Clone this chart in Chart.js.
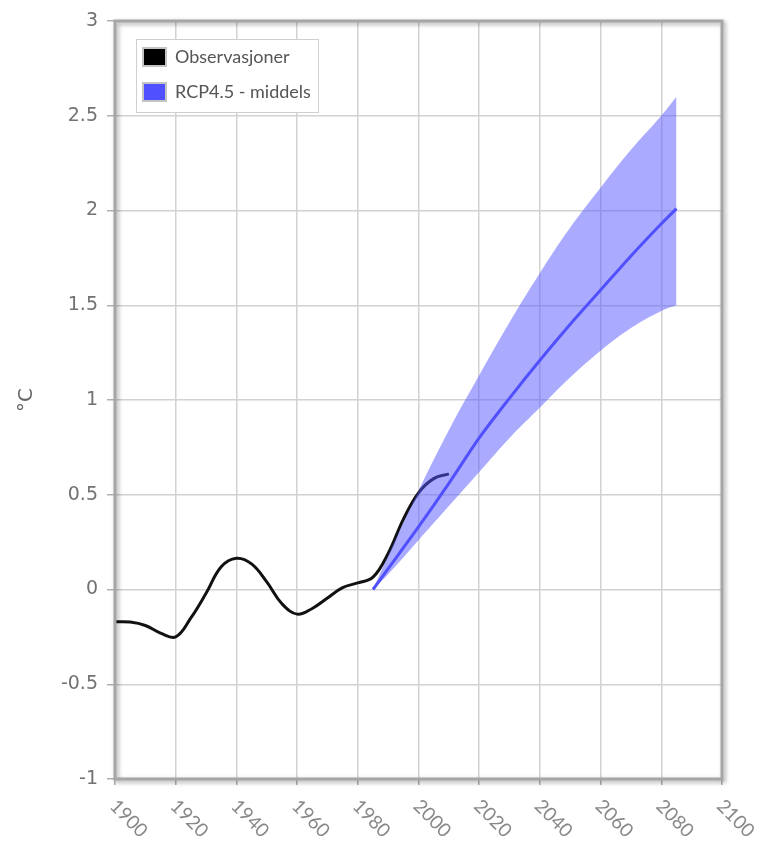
<!DOCTYPE html>
<html>
<head>
<meta charset="utf-8">
<script src="https://cdn.jsdelivr.net/npm/chart.js@4/dist/chart.umd.min.js"></script>
<style>
  html, body { margin: 0; padding: 0; background: #fff; }
  #wrap { width: 762px; height: 841px; }
</style>
</head>
<body>
<div id="wrap"><canvas id="temp-chart" width="762" height="841"></canvas></div>
<script>
// observed temperature anomaly (smoothed)
const obsYears = [1900, 1905, 1910, 1915, 1920, 1925, 1930, 1935, 1940, 1945, 1950, 1955,
  1960, 1965, 1970, 1975, 1980, 1985, 1990, 1995, 2000, 2005, 2010];
const obsValues = [-0.17, -0.172, -0.19, -0.23, -0.25, -0.15, -0.02, 0.12, 0.165, 0.135, 0.04, -0.075,
  -0.13, -0.1, -0.045, 0.01, 0.035, 0.065, 0.19, 0.37, 0.51, 0.585, 0.61];

// RCP4.5 projection
const projYears = [1985, 1990, 2000, 2010, 2020, 2030, 2040, 2050, 2060, 2070, 2080, 2085];
const rcpMean = [0, 0.11, 0.33, 0.56, 0.8, 1.01, 1.21, 1.4, 1.58, 1.76, 1.93, 2.01];
const rcpHigh = [0, 0.18, 0.52, 0.84, 1.13, 1.41, 1.67, 1.91, 2.12, 2.32, 2.5, 2.6];
const rcpLow = [0, 0.08, 0.26, 0.44, 0.62, 0.8, 0.96, 1.12, 1.26, 1.38, 1.47, 1.5];

// axis ticks
const xTicks = [1900, 1920, 1940, 1960, 1980, 2000, 2020, 2040, 2060, 2080, 2100];
const yTicks = [-1, -0.5, 0, 0.5, 1, 1.5, 2, 2.5, 3];

const seriesNames = ['Observasjoner', 'RCP4.5 - middels'];

function toPoints(xs, ys) {
  return xs.map((x, i) => ({x: x, y: ys[i]}));
}

const blue = 'rgb(80, 80, 255)';
const bandColor = 'rgba(85, 85, 255, 0.5)';

// frame, x labels and legend drawn by hand
const extras = {
  id: 'extras',
  afterDatasetsDraw(chart) {
    const ctx = chart.ctx;
    const a = chart.chartArea;
    ctx.save();
    ctx.shadowColor = 'rgba(0,0,0,0.35)';
    ctx.shadowBlur = 4;
    ctx.shadowOffsetX = 2;
    ctx.shadowOffsetY = 2;
    ctx.strokeStyle = '#a6a6a6';
    ctx.lineWidth = 3;
    ctx.strokeRect(a.left, a.top, a.right - a.left, a.bottom - a.top);
    ctx.restore();
  },
  afterDraw(chart) {
    const ctx = chart.ctx;
    const xs = chart.scales.x;
    const a = chart.chartArea;

    // rotated year labels
    ctx.save();
    ctx.font = '19px Lato';
    ctx.fillStyle = '#888';
    ctx.textAlign = 'left';
    ctx.textBaseline = 'middle';
    xTicks.forEach(v => {
      ctx.save();
      ctx.translate(xs.getPixelForValue(v) - 2, a.bottom + 24);
      ctx.rotate(Math.PI / 4);
      ctx.fillText(String(v), 0, 0);
      ctx.restore();
    });
    ctx.restore();

    // legend
    const lx = a.left + 21, ly = a.top + 18;
    ctx.save();
    ctx.fillStyle = '#fff';
    ctx.fillRect(lx, ly, 182, 73);
    ctx.strokeStyle = '#cfcfcf';
    ctx.lineWidth = 1;
    ctx.strokeRect(lx + 0.5, ly + 0.5, 182, 73);
    const fills = ['#000', blue];
    ctx.font = '18px Lato';
    ctx.textBaseline = 'middle';
    seriesNames.forEach((name, i) => {
      const sy = ly + 8 + i * 35;
      ctx.fillStyle = '#c4c4c4';
      ctx.fillRect(lx + 6, sy, 25, 20);
      ctx.fillStyle = fills[i];
      ctx.fillRect(lx + 8, sy + 2, 21, 16);
      ctx.fillStyle = '#555';
      ctx.fillText(name, lx + 39, sy + 10);
    });
    ctx.restore();
  }
};

const ctx = document.getElementById('temp-chart');

new Chart(ctx, {
  type: 'line',
  data: {
    datasets: [
      {
        label: seriesNames[1],
        data: toPoints(projYears, rcpMean),
        borderColor: blue,
        borderWidth: 3,
        pointRadius: 0,
        tension: 0.3,
        fill: false,
        order: 0
      },
      {
        label: 'upper',
        data: toPoints(projYears, rcpHigh),
        borderWidth: 0,
        borderColor: 'rgba(0,0,0,0)',
        backgroundColor: bandColor,
        pointRadius: 0,
        tension: 0.4,
        fill: '+1',
        order: 1
      },
      {
        label: 'lower',
        data: toPoints(projYears, rcpLow),
        borderWidth: 0,
        borderColor: 'rgba(0,0,0,0)',
        pointRadius: 0,
        tension: 0.4,
        fill: false,
        order: 1
      },
      {
        label: seriesNames[0],
        data: toPoints(obsYears, obsValues),
        borderColor: '#111',
        borderWidth: 3,
        pointRadius: 0,
        tension: 0.4,
        fill: false,
        order: 2
      }
    ]
  },
  options: {
    responsive: false,
    animation: false,
    layout: {padding: {top: 21, right: 40, left: 0, bottom: 0}},
    scales: {
      x: {
        type: 'linear',
        min: 1900,
        max: 2100,
        afterBuildTicks: s => { s.ticks = xTicks.map(v => ({value: v})); },
        afterFit: s => { s.height = 62; },
        ticks: {display: false},
        grid: {color: '#d2d2d2', lineWidth: 1.5, tickLength: 6, tickColor: '#b0b0b0'},
        border: {display: false}
      },
      y: {
        min: -1,
        max: 3,
        afterBuildTicks: s => { s.ticks = yTicks.map(v => ({value: v})); },
        afterFit: s => { s.width = 115; },
        ticks: {
          font: {family: 'DejaVu Sans', size: 19},
          color: '#727272',
          padding: 9,
          callback: v => String(v)
        },
        grid: {color: '#d2d2d2', lineWidth: 1.5, tickLength: 8, tickColor: '#b0b0b0'},
        border: {display: false},
        title: {
          display: true,
          text: '°C',
          font: {family: 'DejaVu Sans', size: 20},
          color: '#666',
          padding: {top: 15, bottom: 0}
        }
      }
    },
    plugins: {
      legend: {display: false},
      tooltip: {enabled: false}
    }
  },
  plugins: [extras]
});
</script>
</body>
</html>
